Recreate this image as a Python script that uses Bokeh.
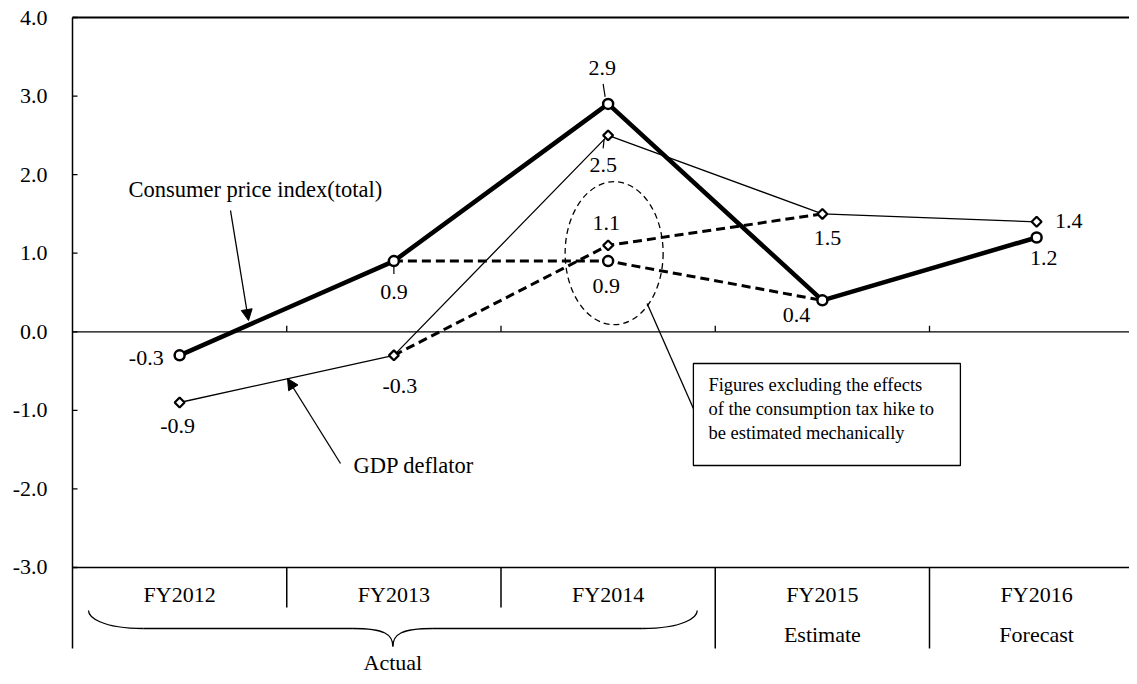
from bokeh.plotting import figure
from bokeh.models import Range1d, LinearAxis, FixedTicker, Arrow, NormalHead, PrintfTickFormatter
from bokeh.core.properties import value
from bokeh.embed import file_html
from bokeh.resources import INLINE

# ---------------- data ----------------
categories = ["FY2012", "FY2013", "FY2014", "FY2015", "FY2016"]
sublabels = ["", "", "", "Estimate", "Forecast"]
group_label = "Actual"
cpi_total = [-0.3, 0.9, 2.9, 0.4, 1.2]
gdp_deflator = [-0.9, -0.3, 2.5, 1.5, 1.4]
excl_categories = ["FY2013", "FY2014", "FY2015"]
cpi_excl_tax = [0.9, 0.9, 0.4]
gdp_excl_tax = [-0.3, 1.1, 1.5]
y_ticks = [-3, -2, -1, 0, 1, 2, 3, 4]

# ---------------- layout constants ----------------
W, H = 1129, 676
PXX = 214.25      # px per category
PXY = 78.57       # px per y unit
LEFT = 64
x0 = -8 / PXX
x1 = x0 + (W - LEFT) / PXX
y1 = 4 + 17 / PXY
y0 = y1 - H / PXY
FONT = value("Liberation Serif")


def dx(px):
    return px / PXX


def dy(px):
    return -px / PXY


def xc(cat):
    return categories.index(cat) + 0.5


p = figure(width=W, height=H, output_backend="svg", toolbar_location=None,
           x_range=Range1d(x0, x1), y_range=Range1d(y0, y1),
           x_axis_location=None, y_axis_location=None,
           min_border_left=LEFT, min_border_right=0, min_border_top=0, min_border_bottom=0)
p.outline_line_color = None
p.xgrid.visible = False
p.ygrid.visible = False
p.background_fill_color = "white"
p.border_fill_color = "white"

yax = LinearAxis(ticker=FixedTicker(ticks=y_ticks), formatter=PrintfTickFormatter(format="%.1f"))
yax.axis_line_color = None
yax.major_tick_line_color = None
yax.minor_tick_line_color = None
yax.major_tick_in = 0
yax.major_tick_out = 0
yax.major_label_standoff = 17
yax.major_label_text_font = "Liberation Serif"
yax.major_label_text_font_size = "22px"
yax.major_label_text_color = "black"
p.add_layout(yax, "left")

n = len(categories)
ymin, ymax = min(y_ticks), max(y_ticks)
row1 = ymin + dy(40)
row2 = ymin + dy(81)

# frame lines
p.segment(x0=[0], y0=[ymax], x1=[x1], y1=[ymax], line_color="black", line_width=2)
p.segment(x0=[0], y0=[ymax], x1=[0], y1=[row2], line_color="black", line_width=1.5)
p.segment(x0=[0], y0=[ymin], x1=[x1], y1=[ymin], line_color="black", line_width=1.5)
p.segment(x0=[0], y0=[0], x1=[x1], y1=[0], line_color="black", line_width=1.3)
# y ticks (inside)
p.segment(x0=[0] * len(y_ticks), y0=y_ticks, x1=[dx(5)] * len(y_ticks), y1=y_ticks,
          line_color="black", line_width=1.3)
# category ticks on zero line
bounds = list(range(1, n))
p.segment(x0=bounds, y0=[0] * len(bounds), x1=bounds, y1=[dy(-6)] * len(bounds),
          line_color="black", line_width=1.3)
# table separators
for b in bounds:
    bottom = row1 if b < 3 else row2
    p.segment(x0=[b], y0=[ymin], x1=[b], y1=[bottom], line_color="black", line_width=1.5)

# category labels
xs = [i + 0.5 for i in range(n)]
p.text(x=xs, y=[ymin + dy(27)] * n, text=categories, text_font=FONT, text_font_size="22px",
       text_align="center", text_baseline="middle", text_color="black")
p.text(x=xs, y=[ymin + dy(67)] * n, text=sublabels, text_font=FONT, text_font_size="22px",
       text_align="center", text_baseline="middle", text_color="black")

# brace under Actual years
L, R = dx(16), 3 - dx(18)
c = (L + R) / 2
ytop = ymin + dy(43)
yh = ymin + dy(61)
ytip = ymin + dy(79)
bx0, by0, bx1, by1, cx0, cy0, cx1, cy1 = [], [], [], [], [], [], [], []
for s in (1, -1):
    e = L if s == 1 else R
    bx0.append(e); by0.append(ytop)
    bx1.append(e + s * dx(55)); by1.append(yh)
    cx0.append(e); cy0.append(yh + dy(-12))
    cx1.append(e + s * dx(12)); cy1.append(yh)
    bx0.append(c - s * dx(40)); by0.append(yh)
    bx1.append(c); by1.append(ytip)
    cx0.append(c - s * dx(8)); cy0.append(yh)
    cx1.append(c); cy1.append(yh + dy(6))
p.bezier(x0=bx0, y0=by0, x1=bx1, y1=by1, cx0=cx0, cy0=cy0, cx1=cx1, cy1=cy1,
         line_color="black", line_width=1.3)
p.segment(x0=[L + dx(55), c + dx(40)], y0=[yh, yh], x1=[c - dx(40), R - dx(55)], y1=[yh, yh],
          line_color="black", line_width=1.3)
p.text(x=[c], y=[ymin + dy(95)], text=[group_label], text_font=FONT, text_font_size="22px",
       text_align="center", text_baseline="middle", text_color="black")

# ---------------- series ----------------
ex = [xc(k) for k in excl_categories]
p.line(ex, cpi_excl_tax, line_color="black", line_width=3, line_dash="9 5")
p.line(ex, gdp_excl_tax, line_color="black", line_width=3, line_dash="9 5")
p.line(xs, gdp_deflator, line_color="black", line_width=1.3)
p.line(xs, cpi_total, line_color="black", line_width=4.5)

# dashed ellipse around FY2014 excl. values
p.ellipse(x=[xc("FY2014") + dx(6)], y=[(cpi_excl_tax[1] + gdp_excl_tax[1]) / 2], width=dx(98), height=143 / PXY,
          fill_color=None, line_color="black", line_width=1.3, line_dash="6 4")
# leader from ellipse to box
bl, bt, br, bb = 2.898, dy(363 - 331.3), 2.898 + dx(267), dy(465 - 331.3)
p.segment(x0=[xc("FY2014") + dx(39)], y0=[0.36], x1=[bl], y1=[-0.976], line_color="black", line_width=1.3)

p.scatter(ex[1:2], gdp_excl_tax[1:2], marker="square", angle=0.785, size=7, fill_color="white",
          line_color="black", line_width=2.2)
p.scatter(xs, gdp_deflator, marker="square", angle=0.785, size=7, fill_color="white",
          line_color="black", line_width=2.2)
p.scatter(ex[1:2], cpi_excl_tax[1:2], marker="circle", size=10, fill_color="white",
          line_color="black", line_width=2.5)
p.scatter(xs, cpi_total, marker="circle", size=10, fill_color="white",
          line_color="black", line_width=2.5)

# data labels: (x, y, value, x_off, y_off, align)
labels = []
offs_cpi = [(-16, 3, "right"), (0, 31, "center"), (-6, -36, "center"), (-26, 15, "center"), (7, 21, "center")]
offs_gdp = [(-2, 24, "center"), (6, 31, "center"), (-5, 30, "center"), (5, 24, "center"), (32, -1, "center")]
for i in range(n):
    labels.append((xs[i], cpi_total[i], cpi_total[i]) + offs_cpi[i])
    labels.append((xs[i], gdp_deflator[i], gdp_deflator[i]) + offs_gdp[i])
labels.append((ex[1], cpi_excl_tax[1], cpi_excl_tax[1], -2, 25, "center"))
labels.append((ex[1], gdp_excl_tax[1], gdp_excl_tax[1], -2, -22, "center"))
for (x, y, v, ox, oy, al) in labels:
    p.text(x=[x], y=[y], text=[f"{v:.1f}"], x_offset=ox, y_offset=oy, text_align=al,
           text_baseline="middle", text_font=FONT, text_font_size="22px", text_color="black")

# short leaders from labels to markers
leaders = [("FY2014", cpi_total[2], (-5, -20), (-3, -7)),
           ("FY2014", gdp_deflator[2], (-4, 4), (-5, 13)),
           ("FY2013", cpi_total[1], (0, 6), (0, 13))]
for cat, v, a, b in leaders:
    p.segment(x0=[xc(cat) + dx(a[0])], y0=[v + dy(a[1])], x1=[xc(cat) + dx(b[0])], y1=[v + dy(b[1])],
              line_color="black", line_width=1.2)

# callout texts and arrows
p.text(x=[dx(128 - 72)], y=[4 + dy(189 - 17)], text=["Consumer price index(total)"], text_font=FONT,
       text_font_size="22.5px", text_align="left", text_baseline="middle", text_color="black")
p.add_layout(Arrow(x_start=dx(230 - 72), y_start=4 + dy(210 - 17), x_end=dx(248 - 72), y_end=4 + dy(320 - 17),
                   line_color="black", line_width=1.3,
                   end=NormalHead(size=11, fill_color="black", line_color="black", line_width=1)))
p.text(x=[dx(353 - 72)], y=[4 + dy(465 - 17)], text=["GDP deflator"], text_font=FONT,
       text_font_size="22.5px", text_align="left", text_baseline="middle", text_color="black")
p.add_layout(Arrow(x_start=dx(340 - 72), y_start=4 + dy(463 - 17), x_end=dx(287 - 72), y_end=4 + dy(378 - 17),
                   line_color="black", line_width=1.3,
                   end=NormalHead(size=11, fill_color="black", line_color="black", line_width=1)))

# note box
p.quad(left=[bl], right=[br], top=[bt], bottom=[bb], fill_color="white", line_color="black", line_width=1.3)
p.text(x=[bl + dx(15)], y=[(bt + bb) / 2 + dy(-5)],
       text=["Figures excluding  the effects\nof the consumption tax hike to\nbe estimated mechanically"],
       text_font=FONT, text_font_size="18.5px", text_align="left", text_baseline="middle",
       text_line_height=1.2, text_color="black")

open("out.html", "w").write(file_html(p, INLINE))
